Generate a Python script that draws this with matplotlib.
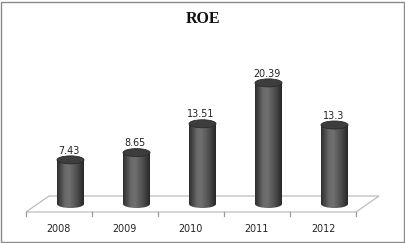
import numpy as np
import matplotlib
matplotlib.use("Agg")
import matplotlib.pyplot as plt
from matplotlib.patches import Ellipse, Rectangle, Polygon
from matplotlib.colors import LinearSegmentedColormap

# ---- data ----
years = ["2008", "2009", "2010", "2011", "2012"]
roe = [7.43, 8.65, 13.51, 20.39, 13.3]
title = "ROE"

# ---- figure ----
W, H = 406, 243
fig = plt.figure(figsize=(W / 100, H / 100), dpi=100)
fig.patch.set_facecolor("white")
ax = fig.add_axes([0, 0, 1, 1])
ax.set_axis_off()

px_per_x = 66.0
px_per_v = 5.94
x0_px = 59.0      # pixel x of category 0
v0_px = 204.0     # pixel y (top-down) of value 0

xlim = (-x0_px / px_per_x, (W - x0_px) / px_per_x)
ylim = ((v0_px - H) / px_per_v, v0_px / px_per_v)

bar_w = 27 / px_per_x
ell_h = 8 / px_per_v
depth_dx = 23 / px_per_x
depth_dv = 16 / px_per_v
offset = depth_dx / 2

# floor
n = len(years)
fl, fr = -0.5, n - 0.5
front = -depth_dv / 2
back = depth_dv / 2
floor = Polygon([[fl, front], [fr, front], [fr + depth_dx, back], [fl + depth_dx, back]],
                closed=True, facecolor="white", edgecolor="#bdbdbd", lw=0.9, zorder=1)
ax.add_patch(floor)
for k in range(n + 1):
    xb = fl + k
    ax.plot([xb, xb], [front, front - 4 / px_per_v], color="#9a9a9a", lw=0.9, zorder=1)

cmap = LinearSegmentedColormap.from_list(
    "cyl", [(0.0, "#2e2e2e"), (0.3, "#6a6a6a"), (0.45, "#707070"), (0.75, "#4e4e4e"), (1.0, "#282828")])
grad = np.linspace(0, 1, 64)[None, :]

for i, v in enumerate(roe):
    cx = i + offset
    # body
    body = Rectangle((cx - bar_w / 2, 0), bar_w, v, facecolor="none", edgecolor="none")
    ax.add_patch(body)
    im = ax.imshow(grad, extent=[cx - bar_w / 2, cx + bar_w / 2, -ell_h, v], aspect="auto",
                   cmap=cmap, vmin=0, vmax=1, zorder=2, interpolation="bilinear")
    im.set_clip_path(body)
    bot = Ellipse((cx, 0), bar_w, ell_h, facecolor="none", edgecolor="none")
    ax.add_patch(bot)
    im2 = ax.imshow(grad, extent=[cx - bar_w / 2, cx + bar_w / 2, -ell_h, v], aspect="auto",
                    cmap=cmap, vmin=0, vmax=1, zorder=2, interpolation="bilinear")
    im2.set_clip_path(bot)
    top = Ellipse((cx, v), bar_w, ell_h, facecolor="#3d3d3d", edgecolor="#2a2a2a", lw=0.6, zorder=3)
    ax.add_patch(top)
    ax.text(cx - 0.02, v + ell_h / 2 + 0.05, f"{v}", ha="center", va="bottom",
            fontsize=6.9, color="#222222", family="DejaVu Sans", zorder=4)
    ax.text(i, front - 12 / px_per_v, years[i], ha="center", va="top",
            fontsize=6.9, color="#222222", family="DejaVu Sans")

ax.set_xlim(*xlim)
ax.set_ylim(*ylim)

fig.text(0.5, 1 - 19 / H, title, ha="center", va="center", fontsize=11.5,
         fontweight="bold", family="Liberation Serif", color="#111111")

# outer frame
fig.patches.append(Rectangle((1 / W, 1 / H), 1 - 3 / W, 1 - 3 / H, transform=fig.transFigure,
                             facecolor="none", edgecolor="#8a8a8a", lw=1.0))

fig.savefig("out.png", dpi=100)
